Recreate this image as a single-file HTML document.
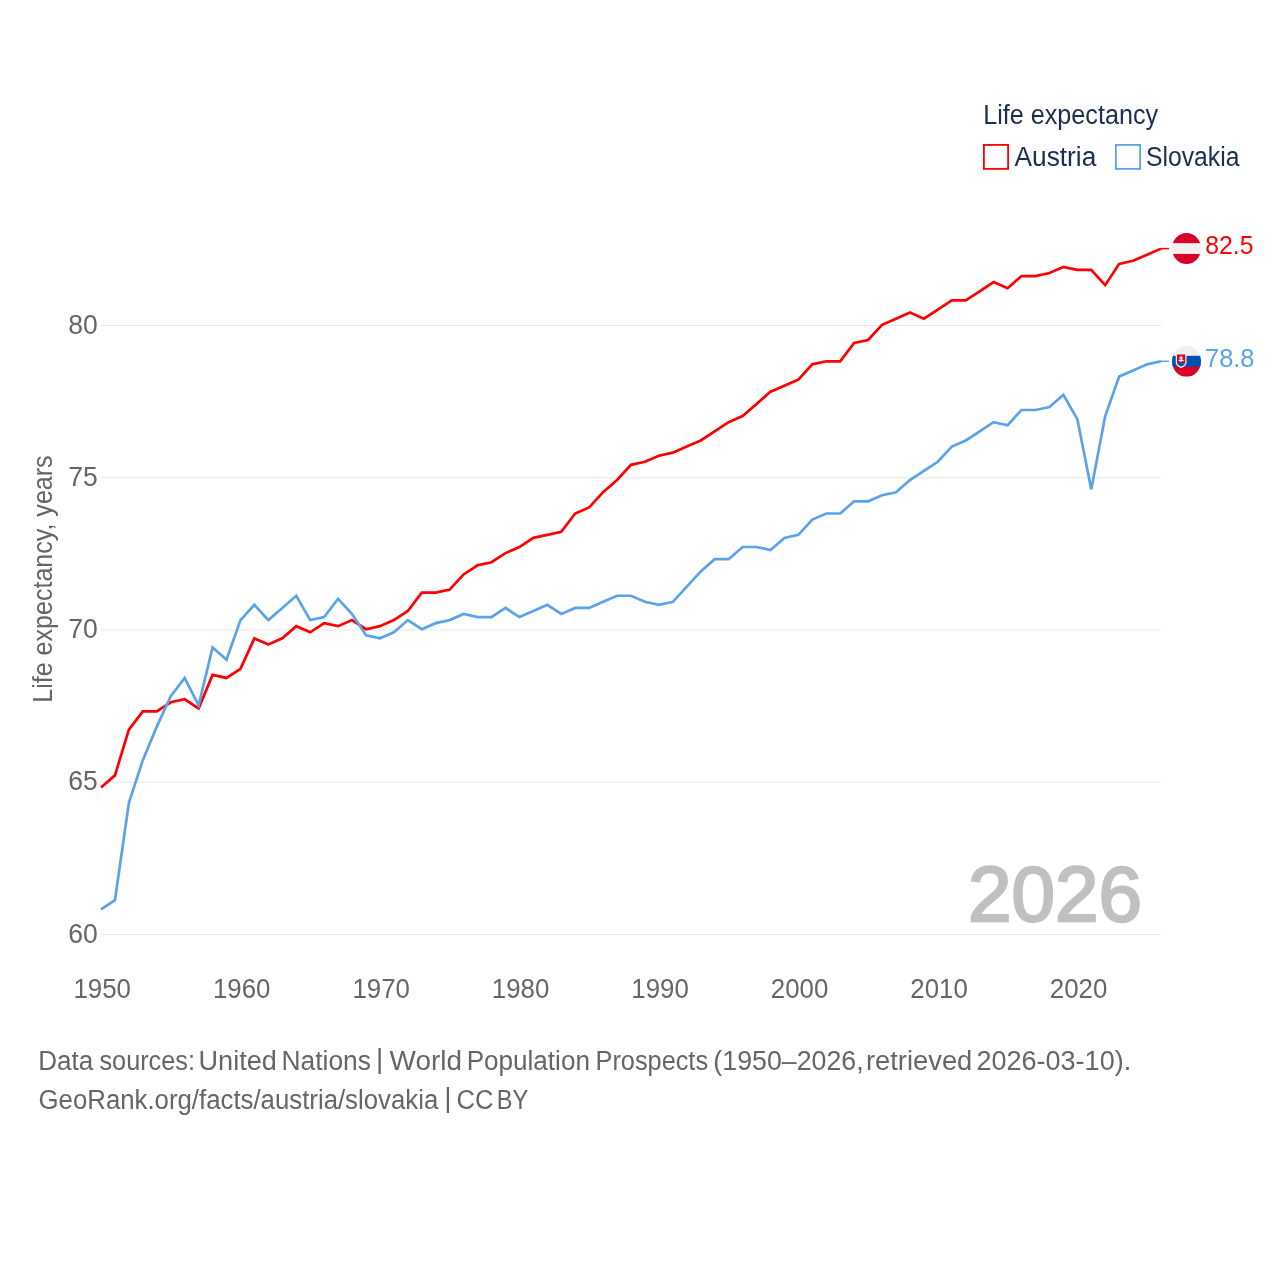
<!DOCTYPE html>
<html lang="en"><head><meta charset="utf-8"><title>Life expectancy: Austria vs Slovakia</title>
<style>html,body{margin:0;padding:0;background:#fff}svg{display:block}text{font-family:"Liberation Sans",Arial,sans-serif}</style></head><body>
<svg width="1280" height="1280" viewBox="0 0 1280 1280">
<rect width="1280" height="1280" fill="#fff"/>
<line x1="101" x2="1161" y1="934.45" y2="934.45" stroke="#e6e6e6" stroke-width="1"/>
<line x1="101" x2="1161" y1="782.21" y2="782.21" stroke="#e6e6e6" stroke-width="1"/>
<line x1="101" x2="1161" y1="629.98" y2="629.98" stroke="#e6e6e6" stroke-width="1"/>
<line x1="101" x2="1161" y1="477.74" y2="477.74" stroke="#e6e6e6" stroke-width="1"/>
<line x1="101" x2="1161" y1="325.50" y2="325.50" stroke="#e6e6e6" stroke-width="1"/>
<text x="97.8" y="942.50" text-anchor="end" font-size="27" fill="#666666" textLength="29.5" lengthAdjust="spacingAndGlyphs">60</text>
<text x="97.8" y="790.26" text-anchor="end" font-size="27" fill="#666666" textLength="29.5" lengthAdjust="spacingAndGlyphs">65</text>
<text x="97.8" y="638.02" text-anchor="end" font-size="27" fill="#666666" textLength="29.5" lengthAdjust="spacingAndGlyphs">70</text>
<text x="97.8" y="485.79" text-anchor="end" font-size="27" fill="#666666" textLength="29.5" lengthAdjust="spacingAndGlyphs">75</text>
<text x="97.8" y="333.55" text-anchor="end" font-size="27" fill="#666666" textLength="29.5" lengthAdjust="spacingAndGlyphs">80</text>
<text x="102.20" y="998" text-anchor="middle" font-size="27" fill="#666666" textLength="57.5" lengthAdjust="spacingAndGlyphs">1950</text>
<text x="241.67" y="998" text-anchor="middle" font-size="27" fill="#666666" textLength="57.5" lengthAdjust="spacingAndGlyphs">1960</text>
<text x="381.15" y="998" text-anchor="middle" font-size="27" fill="#666666" textLength="57.5" lengthAdjust="spacingAndGlyphs">1970</text>
<text x="520.62" y="998" text-anchor="middle" font-size="27" fill="#666666" textLength="57.5" lengthAdjust="spacingAndGlyphs">1980</text>
<text x="660.09" y="998" text-anchor="middle" font-size="27" fill="#666666" textLength="57.5" lengthAdjust="spacingAndGlyphs">1990</text>
<text x="799.57" y="998" text-anchor="middle" font-size="27" fill="#666666" textLength="57.5" lengthAdjust="spacingAndGlyphs">2000</text>
<text x="939.04" y="998" text-anchor="middle" font-size="27" fill="#666666" textLength="57.5" lengthAdjust="spacingAndGlyphs">2010</text>
<text x="1078.52" y="998" text-anchor="middle" font-size="27" fill="#666666" textLength="57.5" lengthAdjust="spacingAndGlyphs">2020</text>
<text transform="translate(51.75,702.77) rotate(-90)" font-size="27" fill="#666666" textLength="247.38" lengthAdjust="spacingAndGlyphs">Life expectancy, years</text>
<text x="968.02" y="920.70" font-size="78" fill="#c0c0c0" textLength="173.99" lengthAdjust="spacingAndGlyphs" stroke="#c0c0c0" stroke-width="2.4" stroke-linejoin="miter">2026</text>
<path d="M101.00,787.55 L114.95,775.37 L128.89,729.70 L142.84,711.43 L156.79,711.43 L170.74,702.30 L184.68,699.25 L198.63,708.39 L212.58,674.90 L226.53,677.94 L240.47,668.81 L254.42,638.36 L268.37,644.45 L282.32,638.36 L296.26,626.18 L310.21,632.27 L324.16,623.14 L338.11,626.18 L352.05,620.09 L366.00,629.23 L379.95,626.18 L393.89,620.09 L407.84,610.96 L421.79,592.69 L435.74,592.69 L449.68,589.64 L463.63,574.42 L477.58,565.29 L491.53,562.24 L505.47,553.11 L519.42,547.02 L533.37,537.88 L547.32,534.84 L561.26,531.79 L575.21,513.52 L589.16,507.44 L603.11,492.21 L617.05,480.03 L631.00,464.81 L644.95,461.76 L658.89,455.67 L672.84,452.63 L686.79,446.54 L700.74,440.45 L714.68,431.32 L728.63,422.18 L742.58,416.09 L756.53,403.91 L770.47,391.73 L784.42,385.64 L798.37,379.56 L812.32,364.33 L826.26,361.29 L840.21,361.29 L854.16,343.02 L868.11,339.97 L882.05,324.75 L896.00,318.66 L909.95,312.57 L923.89,318.66 L937.84,309.53 L951.79,300.39 L965.74,300.39 L979.68,291.26 L993.63,282.12 L1007.58,288.21 L1021.53,276.03 L1035.47,276.03 L1049.42,272.99 L1063.37,266.90 L1077.32,269.94 L1091.26,269.94 L1105.21,285.17 L1119.16,263.86 L1133.11,260.81 L1147.05,254.72 L1161.00,248.63" fill="none" stroke="#ff0000" stroke-width="2.7" stroke-linejoin="miter"/>
<path d="M101.00,909.34 L114.95,900.21 L128.89,802.78 L142.84,760.15 L156.79,726.66 L170.74,696.21 L184.68,677.94 L198.63,705.34 L212.58,647.49 L226.53,659.67 L240.47,620.09 L254.42,604.87 L268.37,620.09 L282.32,607.91 L296.26,595.73 L310.21,620.09 L324.16,617.05 L338.11,598.78 L352.05,614.00 L366.00,635.31 L379.95,638.36 L393.89,632.27 L407.84,620.09 L421.79,629.23 L435.74,623.14 L449.68,620.09 L463.63,614.00 L477.58,617.05 L491.53,617.05 L505.47,607.91 L519.42,617.05 L533.37,610.96 L547.32,604.87 L561.26,614.00 L575.21,607.91 L589.16,607.91 L603.11,601.82 L617.05,595.73 L631.00,595.73 L644.95,601.82 L658.89,604.87 L672.84,601.82 L686.79,586.60 L700.74,571.37 L714.68,559.20 L728.63,559.20 L742.58,547.02 L756.53,547.02 L770.47,550.06 L784.42,537.88 L798.37,534.84 L812.32,519.61 L826.26,513.52 L840.21,513.52 L854.16,501.35 L868.11,501.35 L882.05,495.26 L896.00,492.21 L909.95,480.03 L923.89,470.90 L937.84,461.76 L951.79,446.54 L965.74,440.45 L979.68,431.32 L993.63,422.18 L1007.58,425.23 L1021.53,410.00 L1035.47,410.00 L1049.42,406.96 L1063.37,394.78 L1077.32,419.14 L1091.26,489.17 L1105.21,416.09 L1119.16,376.51 L1133.11,370.42 L1147.05,364.33 L1161.00,361.29" fill="none" stroke="#5aa3ea" stroke-width="2.7" stroke-linejoin="miter"/>
<line x1="1161.00" x2="1169" y1="248.63" y2="248.63" stroke="#ff0000" stroke-width="1.5"/>
<line x1="1161.00" x2="1169" y1="361.29" y2="361.29" stroke="#5aa3ea" stroke-width="1.5"/>
<g><svg x="1172" y="233.03" width="29" height="31" viewBox="0 0 512 512" preserveAspectRatio="none">
<clipPath id="cc"><circle cx="256" cy="256" r="256"/></clipPath>
<g clip-path="url(#cc)"><rect width="512" height="512" fill="#f0f0f0"/><rect width="512" height="166.957" fill="#d80027"/><rect y="345.043" width="512" height="167" fill="#d80027"/></g>
</svg></g>
<g><svg x="1172" y="345.69" width="29" height="31" viewBox="0 0 512 512" preserveAspectRatio="none">
<g clip-path="url(#cc)"><rect width="512" height="512" fill="#f0f0f0"/><rect y="300" width="512" height="212" fill="#d80027"/><rect y="166.957" width="512" height="178.086" fill="#0052b4"/></g>
<path fill="#f0f0f0" d="M66.198 144.696v127.706c0 72.644 94.901 94.903 94.901 94.903s94.9-22.259 94.9-94.903V144.696H66.198z"/>
<path fill="#d80027" d="M88.459 144.696v127.706c0 8.528 1.894 16.582 5.646 24.133h133.987c3.752-7.55 5.646-15.605 5.646-24.133V144.696H88.459z"/>
<path fill="#f0f0f0" d="M205.62 233.739h-33.39v-22.261h22.261v-22.261H172.23v-22.26h-22.261v22.26h-22.26v22.261h22.26v22.261h-33.392V256h33.392v22.261h22.261V256h33.39z"/>
<path fill="#0052b4" d="M124.471 327.61c14.345 9.015 29.083 14.249 36.628 16.577 7.545-2.327 22.283-7.562 36.628-16.577 14.466-9.092 24.607-19.49 30.365-31.075-6.351-4.493-14.1-7.143-22.471-7.143-3.048 0-6.009.361-8.856 1.023-6.033-13.708-19.728-23.284-35.665-23.284s-29.632 9.576-35.665 23.284c-2.847-.661-5.809-1.023-8.856-1.023-8.371 0-16.12 2.65-22.471 7.143 5.755 11.585 15.896 21.983 30.363 31.075z"/>
</svg></g>
<text x="1205.26" y="254.20" font-size="26.5" fill="#ff0000" textLength="48.17" lengthAdjust="spacingAndGlyphs">82.5</text>
<text x="1205.02" y="367.40" font-size="26.5" fill="#5aa3ea" textLength="49.48" lengthAdjust="spacingAndGlyphs">78.8</text>
<text x="983.18" y="124.40" font-size="27" fill="#1b2d52" textLength="174.96" lengthAdjust="spacingAndGlyphs">Life expectancy</text>
<rect x="983.9" y="144.9" width="24.2" height="23.95" fill="none" stroke="#ff0000" stroke-width="1.8"/>
<text x="1014.57" y="166.30" font-size="27" fill="#1b2d52" textLength="81.71" lengthAdjust="spacingAndGlyphs">Austria</text>
<rect x="1115.9" y="144.9" width="24.2" height="23.95" fill="none" stroke="#5aa3ea" stroke-width="1.8"/>
<text x="1145.95" y="166.30" font-size="27" fill="#1b2d52" textLength="93.52" lengthAdjust="spacingAndGlyphs">Slovakia</text>
<text font-size="27" fill="#666666"><tspan x="38.26" y="1070.00" textLength="55.03" lengthAdjust="spacingAndGlyphs">Data</tspan> <tspan x="99.46" y="1070.00" textLength="95.47" lengthAdjust="spacingAndGlyphs">sources:</tspan> <tspan x="198.53" y="1070.00" textLength="78.28" lengthAdjust="spacingAndGlyphs">United</tspan> <tspan x="281.56" y="1070.00" textLength="89.38" lengthAdjust="spacingAndGlyphs">Nations</tspan> <tspan x="375.96" y="1067.80" font-size="28">|</tspan> <tspan x="389.60" y="1070.00" textLength="72.36" lengthAdjust="spacingAndGlyphs">World</tspan> <tspan x="466.66" y="1070.00" textLength="123.23" lengthAdjust="spacingAndGlyphs">Population</tspan> <tspan x="595.51" y="1070.00" textLength="112.57" lengthAdjust="spacingAndGlyphs">Prospects</tspan> <tspan x="713.35" y="1070.00" textLength="150.23" lengthAdjust="spacingAndGlyphs">(1950–2026,</tspan> <tspan x="866.00" y="1070.00" textLength="106.26" lengthAdjust="spacingAndGlyphs">retrieved</tspan> <tspan x="976.53" y="1070.00" textLength="154.64" lengthAdjust="spacingAndGlyphs">2026-03-10).</tspan></text>
<text font-size="27" fill="#666666"><tspan x="38.56" y="1109.00" textLength="399.70" lengthAdjust="spacingAndGlyphs">GeoRank.org/facts/austria/slovakia</tspan> <tspan x="444.26" y="1106.80" font-size="28">|</tspan> <tspan x="456.57" y="1109.00" textLength="36.96" lengthAdjust="spacingAndGlyphs">CC</tspan> <tspan x="496.63" y="1109.00" textLength="31.58" lengthAdjust="spacingAndGlyphs">BY</tspan></text>
</svg></body></html>
